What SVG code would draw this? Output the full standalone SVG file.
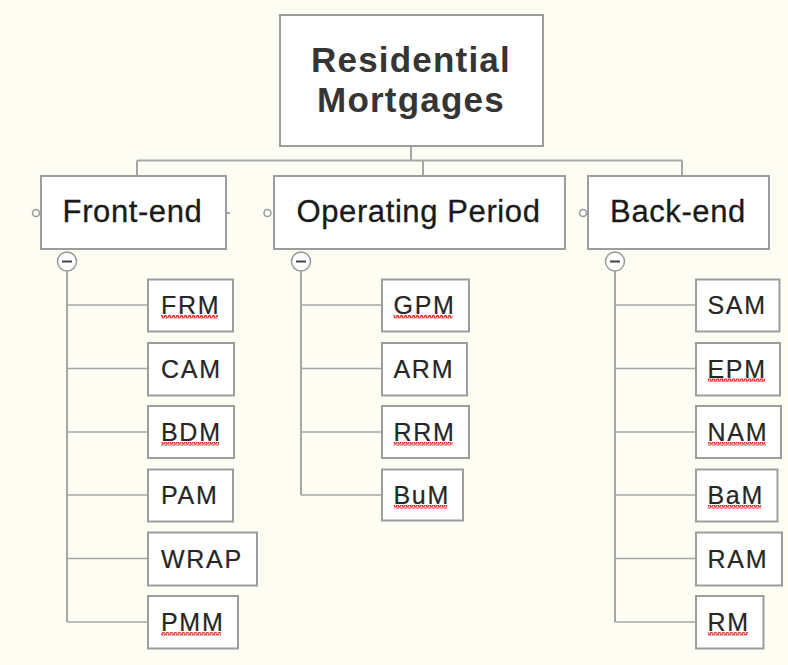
<svg xmlns="http://www.w3.org/2000/svg" width="788" height="665" viewBox="0 0 788 665">
<defs>
<style>
.box{fill:#ffffff;stroke:#9d9d9d;stroke-width:2}
.ln{fill:none;stroke:#a6a6a6;stroke-width:2}
.br{fill:none;stroke:#a6a6a6;stroke-width:1.6}
.root{font-family:"Liberation Sans",Arial,sans-serif;font-weight:bold;font-size:35px;letter-spacing:1.2px;fill:#353535;text-anchor:middle}
.l1{font-family:"Liberation Sans",Arial,sans-serif;font-size:31px;letter-spacing:0.6px;fill:#1a1a1a;stroke:#1a1a1a;stroke-width:0.3;text-anchor:middle}
.l2{font-family:"Liberation Sans",Arial,sans-serif;font-size:25px;letter-spacing:1.7px;fill:#262626;stroke:#262626;stroke-width:0.2}
.knob{fill:#ffffff;stroke:#9a9a9a;stroke-width:1.5}
.minus{stroke:#444444;stroke-width:2}
.sq{fill:url(#squig)}
</style>
<pattern id="squig" patternUnits="userSpaceOnUse" width="4" height="3.5">
<path d="M0,2.8 L1,0.7 L2,0.7 L3,2.8 L4,2.8" fill="none" stroke="#e01818" stroke-width="1.2"/>
</pattern>
</defs>
<rect x="0" y="0" width="788" height="665" fill="#fdfdf4"/>

<g id="connectors">
<path class="ln" d="M411,146 V160.5 M137,160.5 H682 M137,160.5 V176 M423,160.5 V175 M682,160.5 V176"/>
<path class="ln" d="M226,213 H230"/>
<path class="ln" d="M67,271 V622"/>
<path class="br" d="M67,305 H148 M67,368.5 H148 M67,432 H148 M67,495 H148 M67,558.5 H148 M67,622 H148"/>
<path class="ln" d="M301,271 V495"/>
<path class="br" d="M301,305 H382 M301,368.5 H382 M301,432 H382 M301,495 H382"/>
<path class="ln" d="M615,271 V622"/>
<path class="br" d="M615,305 H696 M615,368.5 H696 M615,432 H696 M615,495 H696 M615,558.5 H696 M615,622 H696"/>
</g>

<g id="root">
<rect class="box" x="280" y="15" width="263" height="131"/>
<text class="root" x="411" y="72">Residential</text>
<text class="root" x="411" y="112">Mortgages</text>
</g>

<g id="front-end">
<rect class="box" x="41" y="176" width="185" height="73"/>
<text class="l1" x="132.5" y="222">Front-end</text>
<circle class="knob" cx="36" cy="213" r="3.5"/>
<circle class="knob" cx="67" cy="261.5" r="9.5"/>
<line class="minus" x1="62" y1="261.5" x2="72" y2="261.5"/>
</g>
<g id="operating-period">
<rect class="box" x="274" y="176" width="291" height="73"/>
<text class="l1" x="418.5" y="222">Operating Period</text>
<circle class="knob" cx="267.5" cy="213" r="3.5"/>
<circle class="knob" cx="301" cy="261.5" r="9.5"/>
<line class="minus" x1="296" y1="261.5" x2="306" y2="261.5"/>
</g>
<g id="back-end">
<rect class="box" x="588" y="176" width="181" height="73"/>
<text class="l1" x="678" y="222">Back-end</text>
<circle class="knob" cx="583" cy="213" r="3.5"/>
<circle class="knob" cx="615" cy="261.5" r="9.5"/>
<line class="minus" x1="610" y1="261.5" x2="620" y2="261.5"/>
</g>

<g id="frm"><rect class="box" x="148" y="279.5" width="85" height="52"/><text class="l2" x="161" y="314">FRM</text><rect class="sq" x="161" y="315" width="57" height="3.5"/></g>
<g id="cam"><rect class="box" x="148" y="343" width="86" height="52.5"/><text class="l2" x="161" y="377.5">CAM</text></g>
<g id="bdm"><rect class="box" x="148" y="406" width="86" height="52"/><text class="l2" x="161" y="441">BDM</text><rect class="sq" x="161" y="442" width="58" height="3.5"/></g>
<g id="pam"><rect class="box" x="148" y="469.5" width="85" height="52"/><text class="l2" x="161" y="504">PAM</text></g>
<g id="wrap"><rect class="box" x="148" y="532.5" width="109" height="53"/><text class="l2" x="161" y="567.5">WRAP</text></g>
<g id="pmm"><rect class="box" x="148" y="596" width="90" height="52.5"/><text class="l2" x="161" y="631">PMM</text><rect class="sq" x="161" y="632" width="60" height="3.5"/></g>

<g id="gpm"><rect class="box" x="382" y="279.5" width="87" height="52"/><text class="l2" x="393.5" y="314">GPM</text><rect class="sq" x="393.5" y="315" width="59" height="3.5"/></g>
<g id="arm"><rect class="box" x="382" y="343" width="85" height="52.5"/><text class="l2" x="393.5" y="377.5">ARM</text></g>
<g id="rrm"><rect class="box" x="382" y="406" width="87" height="52"/><text class="l2" x="393.5" y="441">RRM</text><rect class="sq" x="393.5" y="442" width="59" height="3.5"/></g>
<g id="bum"><rect class="box" x="382" y="469.5" width="81" height="51"/><text class="l2" x="393.5" y="504">BuM</text><rect class="sq" x="394" y="505" width="53" height="3.5"/></g>

<g id="sam"><rect class="box" x="696" y="279.5" width="83.5" height="52"/><text class="l2" x="707.5" y="314">SAM</text></g>
<g id="epm"><rect class="box" x="696" y="343" width="84" height="52.5"/><text class="l2" x="707.5" y="377.5">EPM</text><rect class="sq" x="708" y="378.5" width="57" height="3.5"/></g>
<g id="nam"><rect class="box" x="696" y="406" width="85" height="52"/><text class="l2" x="707.5" y="441">NAM</text><rect class="sq" x="708" y="442" width="58" height="3.5"/></g>
<g id="bam"><rect class="box" x="696" y="469.5" width="81.5" height="52"/><text class="l2" x="707.5" y="504">BaM</text><rect class="sq" x="708" y="505" width="53" height="3.5"/></g>
<g id="ram"><rect class="box" x="696" y="532.5" width="86" height="53"/><text class="l2" x="707.5" y="567.5">RAM</text></g>
<g id="rm"><rect class="box" x="696" y="596" width="67.5" height="52.5"/><text class="l2" x="707.5" y="631">RM</text><rect class="sq" x="708" y="632" width="40" height="3.5"/></g>
</svg>
